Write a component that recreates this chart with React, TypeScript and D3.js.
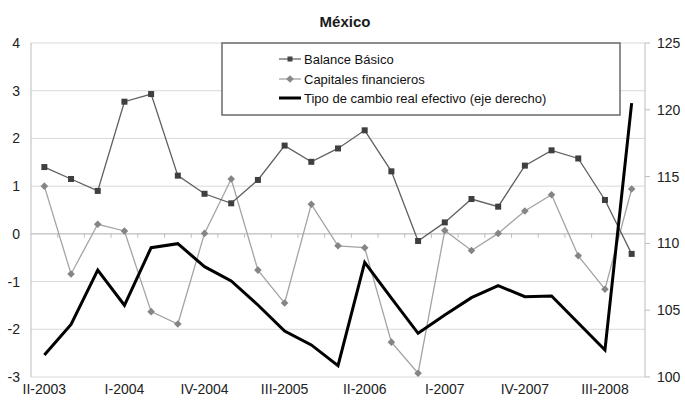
import React from "react";
import * as d3 from "d3";

const categories = [
  "II-2003","III-2003","IV-2003",
  "I-2004","II-2004","III-2004","IV-2004",
  "I-2005","II-2005","III-2005","IV-2005",
  "I-2006","II-2006","III-2006","IV-2006",
  "I-2007","II-2007","III-2007","IV-2007",
  "I-2008","II-2008","III-2008","IV-2008",
];
const tickLabels = ["II-2003","I-2004","IV-2004","III-2005","II-2006","I-2007","IV-2007","III-2008"];

const balanceBasico = [1.4,1.15,0.9,2.77,2.93,1.22,0.84,0.64,1.13,1.85,1.51,1.79,2.17,1.31,-0.15,0.24,0.73,0.57,1.43,1.75,1.58,0.71,-0.42];
const capitalesFinancieros = [1.0,-0.84,0.2,0.06,-1.63,-1.89,0.01,1.15,-0.76,-1.45,0.62,-0.25,-0.29,-2.27,-2.92,0.07,-0.35,0.01,0.48,0.82,-0.46,-1.16,0.94];
const tipoCambio = [101.65,103.94,108.0,105.37,109.68,109.98,108.26,107.19,105.39,103.44,102.4,100.85,108.58,105.9,103.27,104.64,105.94,106.84,106.01,106.06,104.04,102.02,120.5];

const leftTicks = [-3,-2,-1,0,1,2,3,4];
const rightTicks = [100,105,110,115,120,125];

const W = 685, H = 406;
const X0 = 31, X1 = 645, YT = 43, YB = 377;
const FONT = "'Liberation Sans', Arial, sans-serif";

export default function App() {
  const x = d3.scaleBand<string>().domain(categories).range([X0, X1]);
  const xc = (c: string) => (x(c) as number) + x.bandwidth() / 2;
  const yL = d3.scaleLinear().domain([-3, 4]).range([YB, YT]);
  const yR = d3.scaleLinear().domain([100, 125]).range([YB, YT]);

  const lineL = d3.line<number>().x((_, i) => xc(categories[i])).y((d) => yL(d));
  const lineR = d3.line<number>().x((_, i) => xc(categories[i])).y((d) => yR(d));

  const diamond = "M0,-3.8L3.8,0L0,3.8L-3.8,0Z";

  const gridColor = "#d9d9d9";
  const axisColor = "#bdbdbd";
  const y0 = yL(0);

  return (
    <svg width={W} height={H} style={{ position: "absolute", left: 0, top: 0, background: "#fff" }} fontFamily={FONT}>
      <rect x={0} y={0} width={W} height={H} fill="#fff" />
      <text x={345} y={27} textAnchor="middle" fontSize={15} fontWeight="bold" fill="#1a1a1a">México</text>

      {leftTicks.map((t) => (
        <line key={"g" + t} x1={X0} x2={X1} y1={yL(t)} y2={yL(t)} stroke={gridColor} strokeWidth={1} />
      ))}
      <line x1={X0} x2={X0} y1={YT} y2={YB} stroke={axisColor} strokeWidth={1} />
      <line x1={X1} x2={X1} y1={YT} y2={YB} stroke={axisColor} strokeWidth={1} />
      {rightTicks.map((t) => (
        <g key={"r" + t}>
          <line x1={X1} x2={X1 + 5} y1={yR(t)} y2={yR(t)} stroke={axisColor} />
          <text x={657} y={yR(t) + 5} fontSize={14} fill="#222">{t}</text>
        </g>
      ))}
      {leftTicks.map((t) => (
        <text key={"l" + t} x={20} y={yL(t) + 5} fontSize={14} fill="#222" textAnchor="end">{t}</text>
      ))}

      {/* category axis crossing at zero */}
      <line x1={X0} x2={X1} y1={y0} y2={y0} stroke={axisColor} strokeWidth={1} />
      {categories.slice(1).map((c) => (
        <line key={"t" + c} x1={x(c) as number} x2={x(c) as number} y1={y0} y2={y0 + 4} stroke={axisColor} />
      ))}
      {tickLabels.map((c) => (
        <text key={"x" + c} x={xc(c)} y={394} fontSize={14} fill="#222" textAnchor="middle">{c}</text>
      ))}

      {/* Legend */}
      <rect x={222} y={43} width={398} height={72} fill="#fff" stroke="#6a6a6a" strokeWidth={1.5} />
      <line x1={279} x2={301} y1={59} y2={59} stroke="#5a5a5a" strokeWidth={1.2} />
      <rect x={287.5} y={56.5} width={5} height={5} fill="#444" />
      <text x={304} y={64} fontSize={13} fill="#111">Balance Básico</text>
      <line x1={279} x2={301} y1={79} y2={79} stroke="#9a9a9a" strokeWidth={1.2} />
      <path d={diamond} transform="translate(290,79)" fill="#888" />
      <text x={304} y={84} fontSize={13} fill="#111">Capitales financieros</text>
      <line x1={279} x2={301} y1={98} y2={98} stroke="#000" strokeWidth={3} />
      <text x={304} y={103} fontSize={13} fill="#111">Tipo de cambio real efectivo (eje derecho)</text>

      {/* Series */}
      <path d={lineL(capitalesFinancieros) as string} fill="none" stroke="#a4a4a4" strokeWidth={1.3} />
      {capitalesFinancieros.map((v, i) => (
        <path key={"d" + i} d={diamond} transform={`translate(${xc(categories[i])},${yL(v)})`} fill="#858585" />
      ))}
      <path d={lineL(balanceBasico) as string} fill="none" stroke="#5f5f5f" strokeWidth={1.3} />
      {balanceBasico.map((v, i) => (
        <rect key={"s" + i} x={xc(categories[i]) - 3} y={yL(v) - 3} width={6} height={6} fill="#3f3f3f" />
      ))}
      <path d={lineR(tipoCambio) as string} fill="none" stroke="#000" strokeWidth={3} strokeLinejoin="miter" />
    </svg>
  );
}
